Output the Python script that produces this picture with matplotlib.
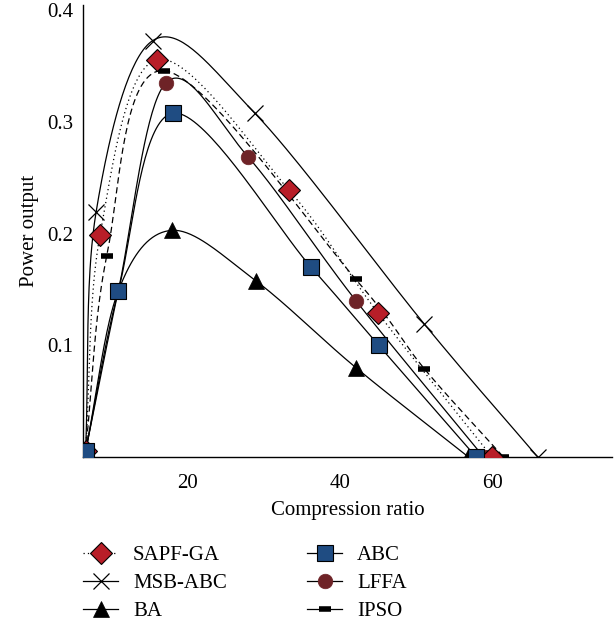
import matplotlib
matplotlib.use("Agg")
import matplotlib.pyplot as plt
import numpy as np

plt.rcParams['font.family'] = ['Liberation Serif', 'DejaVu Serif']

# data (compression ratio, power output)
sapf_x = [6.55, 8.46, 15.96, 33.3, 45.0, 60.0]
sapf_y = [0.005, 0.199, 0.356, 0.239, 0.129, 0.0]
msb_x = [6.55, 7.93, 15.4, 28.8, 51.1, 66.0]
msb_y = [0.005, 0.219, 0.373, 0.308, 0.119, 0.0]
ba_x = [6.55, 10.87, 17.9, 28.9, 42.1, 56.9]
ba_y = [0.005, 0.149, 0.203, 0.158, 0.080, 0.0]
abc_x = [6.55, 10.87, 18.1, 36.2, 45.1, 57.9]
abc_y = [0.005, 0.149, 0.308, 0.170, 0.100, 0.0]
lffa_x = [6.55, 10.87, 17.1, 27.9, 42.1, 58.9]
lffa_y = [0.005, 0.149, 0.335, 0.269, 0.140, 0.0]
ipso_x = [6.55, 9.34, 16.9, 42.1, 51.1, 61.5]
ipso_y = [0.005, 0.180, 0.346, 0.159, 0.079, 0.0]


def smooth(xs, ys, n=40):
    # parametric Catmull-Rom through the points (like a smoothed line)
    k = 147.0  # y scaling so the curve is built in screen-like units
    x = np.array(xs, float)
    y = np.array(ys, float) * k
    px = np.concatenate([[2 * x[0] - x[1]], x, [2 * x[-1] - x[-2]]])
    py = np.concatenate([[2 * y[0] - y[1]], y, [2 * y[-1] - y[-2]]])
    outx, outy = [], []
    t = np.linspace(0, 1, n)
    for i in range(1, len(px) - 2):
        mx1 = (px[i + 1] - px[i - 1]) / 2
        my1 = (py[i + 1] - py[i - 1]) / 2
        mx2 = (px[i + 2] - px[i]) / 2
        my2 = (py[i + 2] - py[i]) / 2
        h00 = 2 * t**3 - 3 * t**2 + 1
        h10 = t**3 - 2 * t**2 + t
        h01 = -2 * t**3 + 3 * t**2
        h11 = t**3 - t**2
        outx.append(h00 * px[i] + h10 * mx1 + h01 * px[i + 1] + h11 * mx2)
        outy.append(h00 * py[i] + h10 * my1 + h01 * py[i + 1] + h11 * my2)
    return np.concatenate(outx), np.concatenate(outy) / k


fig = plt.figure(figsize=(6.15, 6.25), dpi=100)
ax = fig.add_axes([0.1345, 0.2688, 0.861, 0.723])

red = '#B81E28'
blue = '#1F4C82'
maroon = '#6E2327'
lw = 0.9

series = [
    (sapf_x, sapf_y, 'SAPF-GA', (0, (1, 2.5)), 4, dict(marker='D', ms=11, mfc=red, mec='black', mew=0.8)),
    (msb_x, msb_y, 'MSB-ABC', '-', 3, dict(marker='x', ms=11, mfc='none', mec='black', mew=0.9)),
    (ba_x, ba_y, 'BA', '-', 3, dict(marker='^', ms=11, mfc='black', mec='black', mew=0.5)),
    (abc_x, abc_y, 'ABC', '-', 5, dict(marker='s', ms=11, mfc=blue, mec='black', mew=0.8)),
    (lffa_x, lffa_y, 'LFFA', '-', 3, dict(marker='o', ms=10.5, mfc=maroon, mec=maroon, mew=0.5)),
    (ipso_x, ipso_y, 'IPSO', (0, (5, 3)), 3, dict(marker='_', ms=9, mfc='black', mec='black', mew=4)),
]

handles = []
for xs, ys, name, ls, z, mk in series:
    sx, sy = smooth(xs, ys)
    ax.plot(sx, sy, color='black', lw=lw, ls=ls)
    ax.plot(xs, ys, ls='none', **mk, zorder=z)
    h, = ax.plot([], [], color='black', lw=lw, ls=ls if name == 'SAPF-GA' else '-', label=name, **mk)
    handles.append(h)

ax.set_xlim(6.18, 75.8)
ax.set_ylim(0, 0.4047)
ax.set_xticks([20, 40, 60])
ax.set_yticks([0.1, 0.2, 0.3, 0.4])
ax.set_yticklabels(['0.1', '0.2', '0.3', '0.4'])
ax.tick_params(length=0, labelsize=15)
ax.tick_params(axis='y', pad=7)
ax.tick_params(axis='x', pad=12)
for s in ['top', 'right']:
    ax.spines[s].set_visible(False)
for s in ['left', 'bottom']:
    ax.spines[s].set_linewidth(1.0)
ax.set_xlabel('Compression ratio', fontsize=15, labelpad=6)
ax.set_ylabel('Power output', fontsize=15, labelpad=6)

fig.legend(handles=handles, ncol=2, loc='upper left', bbox_to_anchor=(0.135, 0.127),
           frameon=False, fontsize=15, handlelength=1.7, columnspacing=3.85,
           labelspacing=0.4, handletextpad=0.7, borderaxespad=0, borderpad=0)

fig.savefig('out.png', dpi=100)
